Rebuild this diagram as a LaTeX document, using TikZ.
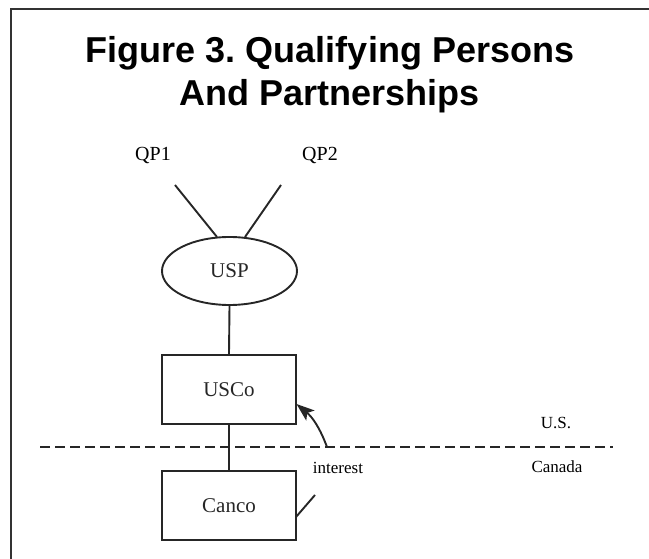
\documentclass[tikz,border=0pt]{standalone}
\usepackage{fontspec}
\setmainfont{Liberation Serif}
\newfontfamily\titlefont{Liberation Sans}
\usetikzlibrary{shapes.geometric,arrows.meta}
\frenchspacing
\begin{document}
\begin{tikzpicture}[x=1pt,y=-1pt,
  ln/.style={line width=1.9pt,black!85},
  boxnode/.style={draw,ln,minimum width=134pt,minimum height=69pt,inner sep=0pt,font=\fontsize{21}{24}\selectfont},
  ovalnode/.style={draw,ln,ellipse,minimum width=135pt,minimum height=68pt,inner sep=0pt,font=\fontsize{21}{24}\selectfont},
  lbl/.style={inner sep=0pt,font=\fontsize{17}{20}\selectfont},
  qp/.style={inner sep=0pt,font=\fontsize{20}{23}\selectfont},
  bigtip/.style={-{Stealth[length=18pt,width=13pt,inset=4pt]}},
  titletext/.style={inner sep=0pt,font=\titlefont\bfseries\fontsize{36}{43}\selectfont,align=center}]
\useasboundingbox (0,0) rectangle (649,559);
% frame
\draw[line width=2.6pt,black!80] (649,9) -- (11,9) -- (11,559);
% title
\node[titletext,anchor=base] (t1) at (330,63) {Figure 3. Qualifying Persons};
\node[titletext,anchor=base] (t2) at (330,106) {And Partnerships};
% nodes
\node[qp] (qp1) at (153,156) {QP1};
\node[qp] (qp2) at (320,156) {QP2};
\coordinate (q1s) at (175,185);
\coordinate (q2s) at (281,185);
\node[ovalnode] (usp) at (229.5,271) {USP};
\node[boxnode] (usco) at (229,389.5) {USCo};
\node[boxnode] (canco) at (229,505.5) {Canco};
\coordinate (q1e) at (217,237);
\coordinate (q2e) at (245,237);
\draw[ln] (q1s) -- (q1e);
\draw[ln] (q2s) -- (q2e);
\draw[ln] (usp.south) -- (usco.north);
\draw[ln] (usco.south) -- (canco.north);
% border line
\coordinate (dl) at (40,447);
\coordinate (dr) at (613,447);
\draw[ln,dash pattern=on 9.5pt off 5.5pt] (dl) -- (dr);
\node[lbl] (us) at (556,423) {U.S.};
\node[lbl] (can) at (557,467) {Canada};
% interest arrow
\coordinate (as) at (327,447);
\coordinate (ae) at (296.5,404);
\draw[ln,bigtip] (as) to[bend right=15] (ae);
\node[lbl] (int) at (338,468) {interest};
\coordinate (cs) at (296,517);
\coordinate (ce) at (315,495);
\draw[ln] (cs) -- (ce);
\end{tikzpicture}
\end{document}
